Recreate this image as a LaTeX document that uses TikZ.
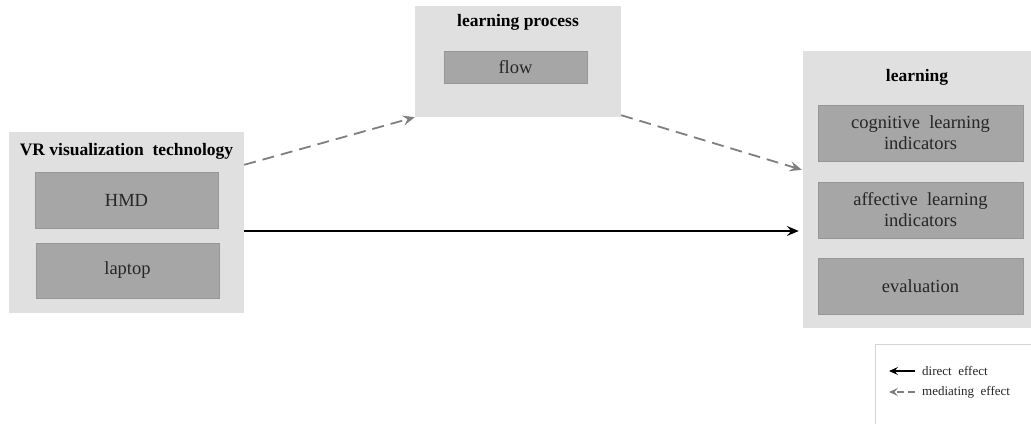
\documentclass[tikz,border=0pt]{standalone}
\usepackage{fontspec}
\setmainfont{Liberation Serif}
\usetikzlibrary{arrows.meta,calc}
\definecolor{outerg}{HTML}{E0E0E0}
\definecolor{innerg}{HTML}{A6A6A6}
\definecolor{innerb}{HTML}{969696}
\definecolor{dashg}{HTML}{7F7F7F}
\definecolor{legb}{HTML}{D4D4D4}
\tikzset{
  outerbox/.style={fill=outerg, draw=none, inner sep=0pt},
  innerbox/.style={fill=innerg, draw=innerb, line width=0.8bp, inner sep=0pt, align=center,
    font=\fontsize{18.5bp}{21bp}\selectfont, text=black!85},
  titletxt/.style={font=\bfseries\fontsize{17.5bp}{20bp}\selectfont, inner sep=0pt},
  mediating/.style={dashg, line width=1.8bp, dash pattern=on 12bp off 7bp, -{Stealth[length=12bp,width=10bp,inset=4.5bp]}},
  direct/.style={black, line width=1.4bp, -{Stealth[length=12bp,width=10bp,inset=4.5bp]}},
  legtxt/.style={font=\fontsize{13bp}{15bp}\selectfont, anchor=west, inner sep=0pt, text=black!85},
}
\begin{document}
\begin{tikzpicture}[x=1bp,y=-1bp]
\useasboundingbox (0,0) rectangle (1031,423);
% outer groups
\node[outerbox, minimum width=235bp, minimum height=181bp] (vr) at (126.5,222.5) {};
\node[outerbox, minimum width=206bp, minimum height=111bp] (lp) at (518,61.5) {};
\node[outerbox, minimum width=228bp, minimum height=277bp] (lg) at (917,189.5) {};
% titles
\node[titletxt] (vrt) at (126.5,151) {VR visualization\ \ technology};
\node[titletxt] (lpt) at (518,22) {learning process};
\node[titletxt] (lgt) at (917,77) {learning};
% inner boxes
\node[innerbox, minimum width=183bp, minimum height=56bp] (hmd) at (126.5,200) {HMD};
\node[innerbox, minimum width=183bp, minimum height=55bp] (lap) at (127.5,270.5) {laptop};
\node[innerbox, minimum width=143bp, minimum height=32bp] (flow) at (515.5,67) {flow};
\node[innerbox, minimum width=205bp, minimum height=56bp] (cog) at (920.5,133) {cognitive\ \ learning\\indicators};
\node[innerbox, minimum width=205bp, minimum height=56bp] (aff) at (920.5,210) {affective\ \ learning\\indicators};
\node[innerbox, minimum width=205bp, minimum height=56bp] (eva) at (920.5,286) {evaluation};
% connectors
\draw[mediating] ($(vr.north east)+(0,33)$) -- (lp.south west);
\draw[mediating] ($(lp.south east)+(0,-2)$) -- ($(lg.north west)+(-1,119)$);
\draw[direct] ($(vr.east)+(0,8.5)$) -- ($(lg.west)+(-4,41.5)$);
% legend
\node[draw=legb, line width=1bp, minimum width=158bp, minimum height=80bp, inner sep=0pt] (leg) at (954,384.5) {};
\coordinate (d1) at (915,371);
\coordinate (d2) at (889,371);
\coordinate (m1) at (915,392);
\coordinate (m2) at (889,392);
\draw[black, line width=1.4bp, -{Stealth[length=9bp,width=8bp,inset=3.5bp]}] (d1) -- (d2);
\draw[dashg, line width=1.3bp, dash pattern=on 7bp off 4bp, -{Stealth[length=9bp,width=8bp,inset=3.5bp]}] (m1) -- (m2);
\node[legtxt] (dtx) at (922,371) {direct\ \ effect};
\node[legtxt] (mtx) at (922,392) {mediating\ \ effect};
\end{tikzpicture}
\end{document}
